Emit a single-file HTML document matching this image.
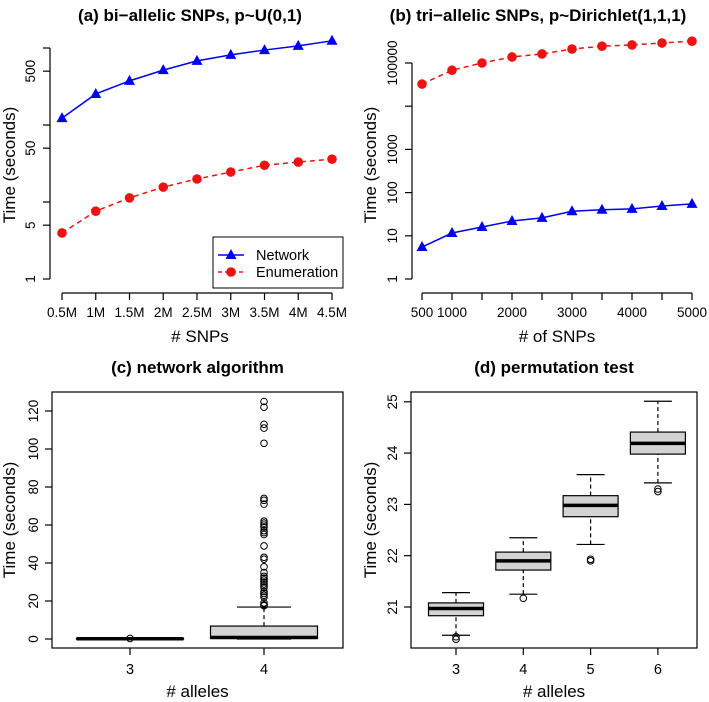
<!DOCTYPE html>
<html><head><meta charset="utf-8"><style>
body{margin:0;background:#fff}
svg{display:block;font-family:"Liberation Sans",Arial,sans-serif}
</style></head><body>
<svg id="s" width="709" height="702" viewBox="0 0 709 702" xmlns="http://www.w3.org/2000/svg"></svg>
<script>
const aX=["0.5M","1M","1.5M","2M","2.5M","3M","3.5M","4M","4.5M"];
const aNet=[123,253,374,516,680,815,940,1065,1240];
const aEnum=[3.96,7.6,11.3,15.6,19.9,24.5,30,33,36];
const bX=[500,1000,1500,2000,2500,3000,3500,4000,4500,5000];
const bXLabels=["500","1000","","2000","","3000","","4000","","5000"];
const bNet=[5.5,11.6,16,22,26,37,40,42,49,55];
const bEnum=[32500,68000,100000,138000,162000,210000,245000,262000,290000,320000];
const cCats=["3","4"];
const cStats=[[0,0,0.1,0.2,0.4],[0,0.3,0.8,6.8,16.8]];
const cOut=[[0.3],[125,122,113,111,103,74,73,71,62,61,60,59,57,56,55,49,43,42,38,35,33,32,31,30,29,28,27,25,24,23,22,19,18,17.5]];
const dCats=["3","4","5","6"];
const dStats=[[20.45,20.83,20.97,21.08,21.28],[21.25,21.72,21.90,22.07,22.35],[22.22,22.76,22.98,23.17,23.58],[23.42,23.98,24.19,24.41,25.01]];
const dOut=[[20.42,20.37],[21.17],[21.93,21.90],[23.30,23.25]];

const S=document.getElementById('s');
const NS="http://www.w3.org/2000/svg";
function el(t,a,txt){const e=document.createElementNS(NS,t);for(const k in a)e.setAttribute(k,a[k]);if(txt!==undefined)e.textContent=txt;S.appendChild(e);return e;}
function txt(x,y,s,size,opts){opts=opts||{};const a={x:x,y:y,'font-size':size,'text-anchor':'middle',fill:'#000'};if(opts.bold)a['font-weight']='bold';if(opts.rot)a.transform=`rotate(-90 ${x} ${y})`;return el('text',a,s);}
function line(x1,y1,x2,y2,st){return el('line',Object.assign({x1,y1,x2,y2,stroke:'#000','stroke-width':1.2},st||{}));}

// ---- Panel A ----
const ay=v=>279-77*Math.log10(v);
const ax=i=>62+i*(332-62)/8;
let t=txt(190,21,"(a) bi\u2212allelic SNPs, p~U(0,1)",17,{bold:true});

line(50,ay(1),50,ay(1000));
[1,5,10,50,100,500,1000].forEach(v=>{line(43,ay(v),50,ay(v));});
[[1,"1"],[5,"5"],[50,"50"],[500,"500"]].forEach(([v,s])=>{const e=txt(35,ay(v),s,13.5,{rot:true});});
line(ax(0),293,ax(8),293);
aX.forEach((s,i)=>{line(ax(i),293,ax(i),300);const e=txt(ax(i),317,s,13.5);});
t=txt(15,165,"Time (seconds)",17,{rot:true});
t=txt(200,342,"# SNPs",17);
function series(xs,ys,xf,yf,color,dash,shape,name){
  const p=el('polyline',{points:ys.map((v,i)=>xf(i)+','+yf(v)).join(' '),fill:'none',stroke:color,'stroke-width':1.5,'stroke-dasharray':dash||'none'});
  
  ys.forEach((v,i)=>{const x=xf(i),y=yf(v);let m;
    if(shape==='tri')m=el('polygon',{points:`${x},${y-6} ${x-5.5},${y+4} ${x+5.5},${y+4}`,fill:color});
    else m=el('circle',{cx:x,cy:y,r:4.8,fill:color});
    });
}
series(aX,aNet,ax,ay,'#0000ee',null,'tri','network-a');
series(aX,aEnum,ax,ay,'#ee1111','5,4','circ','enumeration-a');
const lg=el('rect',{x:213,y:237,width:130,height:51,fill:'#fff',stroke:'#000','stroke-width':1});

line(218,255,244,255,{stroke:'#0000ee','stroke-width':1.5});
el('polygon',{points:`231,249 225.5,259 236.5,259`,fill:'#0000ee'});
t=txt(256,260,"Network",14.5);t.setAttribute('text-anchor','start');
line(218,272,244,272,{stroke:'#ee1111','stroke-width':1.5,'stroke-dasharray':'4,3'});
el('circle',{cx:231,cy:272,r:4.8,fill:'#ee1111'});
t=txt(256,277,"Enumeration",14.5);t.setAttribute('text-anchor','start');

// ---- Panel B ----
const by=v=>279-43.2*Math.log10(v);
const bx=i=>422+(bX[i]-500)*(692-422)/4500;
t=txt(538,21,"(b) tri\u2212allelic SNPs, p~Dirichlet(1,1,1)",17,{bold:true});

line(412,by(1),412,by(100000));
[1,10,100,1000,10000,100000].forEach(v=>line(405,by(v),412,by(v)));
[[1,"1"],[10,"10"],[100,"100"],[1000,"1000"],[100000,"100000"]].forEach(([v,s])=>{const e=txt(397,by(v),s,13.5,{rot:true});});
line(bx(0),293,bx(9),293);
bX.forEach((v,i)=>{line(bx(i),293,bx(i),300);if(bXLabels[i]){const e=txt(bx(i),317,bXLabels[i],13.5);}});
t=txt(376,165,"Time (seconds)",17,{rot:true});
t=txt(557,342,"# of SNPs",17);
series(bX,bEnum,bx,by,'#ee1111','5,4','circ','enumeration-b');
series(bX,bNet,bx,by,'#0000ee',null,'tri','network-b');

// ---- Box plots ----
function boxplot(cats,stats,outs,o){
  const f=el('rect',{x:o.x0,y:392,width:o.x1-o.x0,height:256,fill:'none',stroke:'#000','stroke-width':1.2});
  
  cats.forEach((c,i)=>{const x=o.xf(i),s=stats[i],hw=o.bw/2,cw=o.cw/2;
    line(x,o.yf(s[0]),x,o.yf(s[1]),{'stroke-dasharray':'4,3'});
    line(x,o.yf(s[3]),x,o.yf(s[4]),{'stroke-dasharray':'4,3'});
    line(x-cw,o.yf(s[0]),x+cw,o.yf(s[0]));
    line(x-cw,o.yf(s[4]),x+cw,o.yf(s[4]));
    const r=el('rect',{x:x-hw,y:o.yf(s[3]),width:o.bw,height:Math.max(0.5,o.yf(s[1])-o.yf(s[3])),fill:'#d3d3d3',stroke:'#000','stroke-width':1.2});
    
    line(x-hw,o.yf(s[2]),x+hw,o.yf(s[2]),{'stroke-width':3.5});
    outs[i].forEach(v=>{const p=el('circle',{cx:x,cy:o.yf(v),r:3.3,fill:'none',stroke:'#000','stroke-width':1});});
    line(x,648,x,655);
    const e=txt(x,674,c,14.5);
  });
  o.ticks.forEach(v=>{line(o.x0-7,o.yf(v),o.x0,o.yf(v));const e=txt(o.x0-14,o.yf(v),String(v),13.5,{rot:true});});
  let t=txt((o.x0+o.x1)/2,373,o.title,17,{bold:true});
  t=txt(o.x0-o.tOff,520,"Time (seconds)",17,{rot:true});
  t=txt((o.x0+o.x1)/2,697,"# alleles",17);
}
boxplot(cCats,cStats,cOut,{id:'c',x0:52,x1:343,xf:i=>130+i*134,yf:v=>639-1.9*v,bw:107,cw:54,ticks:[0,20,40,60,80,100,120],title:"(c) network algorithm",tOff:37});
boxplot(dCats,dStats,dOut,{id:'d',x0:411,x1:697,xf:i=>456+i*67.3,yf:v=>607-51.3*(v-21),bw:55,cw:28,ticks:[21,22,23,24,25],title:"(d) permutation test",tOff:35});
</script>
</body></html>
